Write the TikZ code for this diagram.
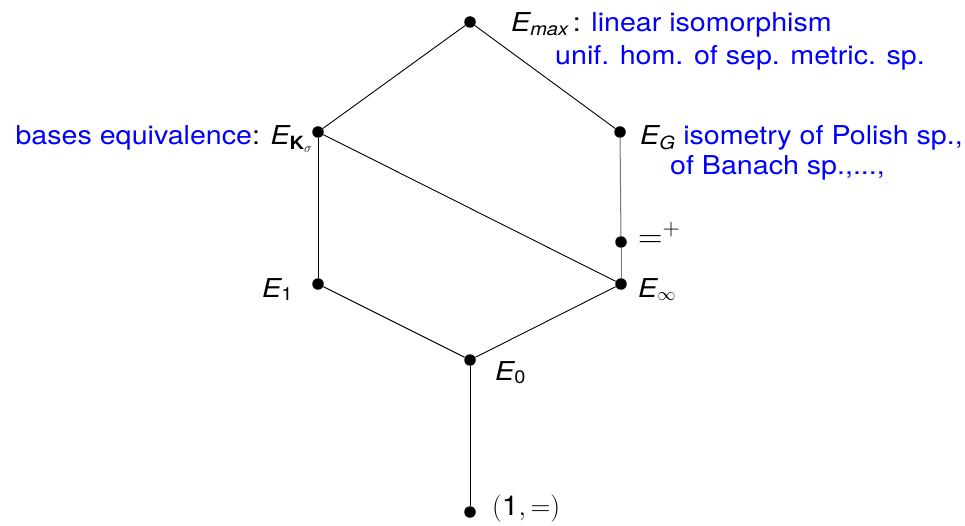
\RequirePackage{fix-cm}
\documentclass[tikz,border=0pt]{standalone}
\usepackage{amsmath}
\usepackage{graphicx}
\usepackage{fontspec}
\setmainfont[FakeStretch=1.1]{TeX Gyre Heros}
\usepackage{xcolor}
\definecolor{lblue}{RGB}{0,0,255}
\begin{document}
\begin{tikzpicture}[x=1pt,y=-1pt,
  pt/.style={circle,fill=black,inner sep=0pt,minimum size=11.5pt},
  edge/.style={line width=0.9pt,black},
  gedge/.style={line width=1pt,black!55},
  lab/.style={anchor=base west,inner sep=0pt,font=\fontsize{26}{30}\selectfont},
  blab/.style={lab,text=lblue}]
\useasboundingbox (0,0) rectangle (965,526);
\node[pt] (max) at (470,22) {};
\node[pt] (K) at (318,132) {};
\node[pt] (G) at (620,132) {};
\node[pt] (P) at (621,242) {};
\node[pt] (one) at (318,284) {};
\node[pt] (inf) at (621,284) {};
\node[pt] (zero) at (470,360) {};
\node[pt] (bot) at (470,512) {};
\draw[edge] (max) -- (K);
\draw[edge] (max) -- (G);
\draw[edge] (K) -- (one);
\draw[edge] (K) -- (inf);
\draw[gedge] (G) -- (P);
\draw[gedge] (P) -- (inf);
\draw[edge] (one) -- (zero);
\draw[edge] (inf) -- (zero);
\draw[edge] (zero) -- (bot);
% labels
\node[lab] (lmax) at (511,32) {$\textit{E}_{\textit{max}}$\,: \textcolor{lblue}{linear isomorphism}};
\node[blab] (lmax2) at (555,65) {unif. hom. of sep. metric. sp.};
\node[lab,anchor=base east] (lK) at (313,145) {\textcolor{lblue}{bases equivalence}: $\textit{E}_{\textbf{K}_\sigma}$};
\node[lab] (lG) at (640,145) {$\textit{E}_{\textit{G}}$ \textcolor{lblue}{isometry of Polish sp.,}};
\node[blab] (lG2) at (670,175) {of Banach sp.,...,};
\node[lab] (lP) at (638,248) {\resizebox{42pt}{!}{$=^{+}$}};
\node[lab] (l1) at (262,297) {$\textit{E}_{\text{1}}$};
\node[lab] (linf) at (638,297) {$\textit{E}_{\infty}$};
\node[lab] (l0) at (495,380) {$\textit{E}_{\text{0}}$};
\node[lab] (lbot) at (492,515) {\resizebox{68pt}{!}{$(\text{1},=)$}};
\end{tikzpicture}
\end{document}
